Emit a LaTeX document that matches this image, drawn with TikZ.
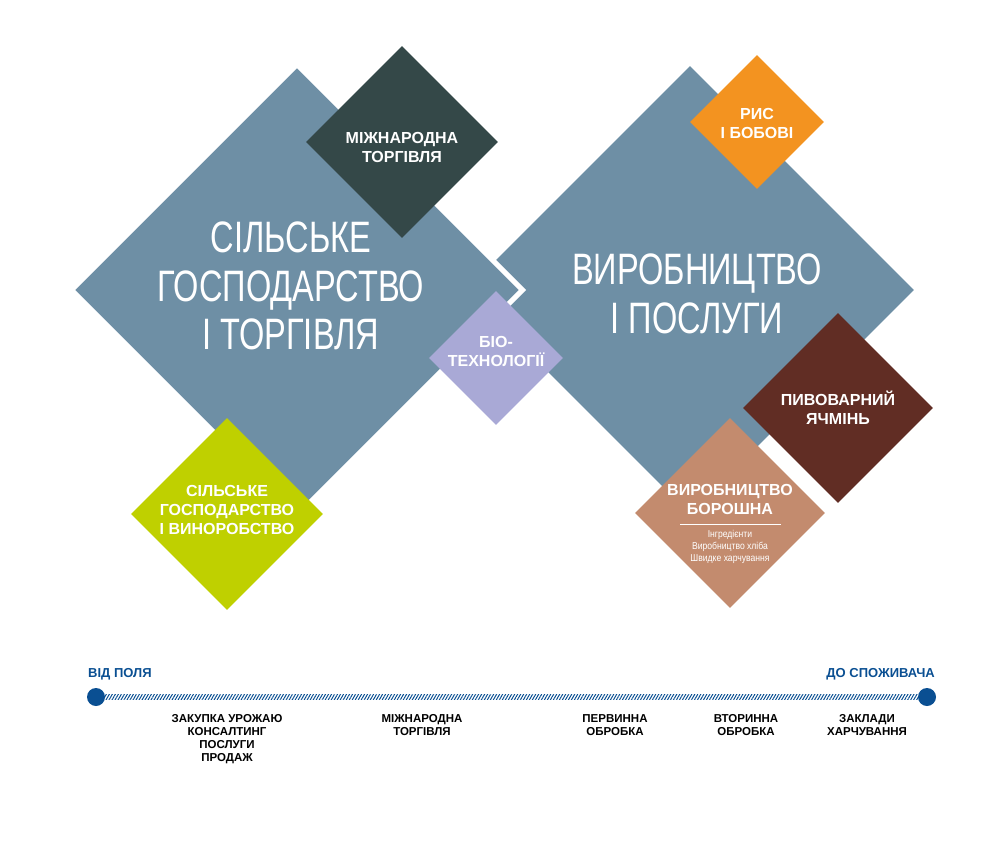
\documentclass[tikz,border=0pt]{standalone}
\usepackage{fontspec}
\setmainfont{Liberation Sans}
\newfontfamily\narrowfont[FakeStretch=0.74]{Liberation Sans}
\newfontfamily\notefont[FakeStretch=0.86]{Liberation Sans}
\usepackage{xcolor}
\usepackage{tikz}
\usetikzlibrary{shapes.geometric, positioning, patterns.meta, calc}

\definecolor{steel}{HTML}{6E8FA5}
\definecolor{slate}{HTML}{344848}
\definecolor{riceorange}{HTML}{F39320}
\definecolor{lavender}{HTML}{A9A9D6}
\definecolor{maltbrown}{HTML}{612D24}
\definecolor{flourtan}{HTML}{C38B6E}
\definecolor{vinelime}{HTML}{BFD000}
\definecolor{timeblue}{HTML}{0A4F92}

\begin{document}
\begin{tikzpicture}[x=1pt, y=-1pt,
  bigdiamond/.style={diamond, aspect=1, inner sep=0pt, minimum size=448pt, fill=steel},
  tile/.style={diamond, aspect=1, inner sep=0pt, minimum size=#1},
  tiletext/.style={text=white, align=center, inner sep=0pt, font=\fontsize{16}{19}\selectfont\bfseries},
  bigtext/.style={text=white, align=center, inner sep=0pt, font=\narrowfont\fontsize{44}{48.5}\selectfont},
  stage/.style={align=center, inner sep=0pt, font=\fontsize{11.5}{13}\selectfont\bfseries},
  endlabel/.style={text=timeblue, inner sep=0pt, font=\fontsize{13}{15}\selectfont\bfseries},
  dot/.style={circle, fill=timeblue, minimum size=18pt, inner sep=0pt}
]
  \useasboundingbox (0,0) rectangle (1000,842);

  % two main sectors
  \node[bigdiamond] (production) at (690,290) {};
  \node[bigdiamond, minimum size=453pt, draw=white, line width=5pt] (farming) at (297,290) {};
  \node[bigtext] (farmingtext) at (291,286) {СІЛЬСЬКЕ\\ГОСПОДАРСТВО\\І ТОРГІВЛЯ};
  \node[bigtext] (productiontext) at (697,294) {ВИРОБНИЦТВО\\І ПОСЛУГИ};

  % segments
  \node[tile=192pt, fill=slate, label={[tiletext, yshift=-5pt]center:{МІЖНАРОДНА\\ТОРГІВЛЯ}}] (trade) at (402,142) {};
  \node[tile=134pt, fill=riceorange, label={[tiletext, yshift=-1pt]center:{РИС\\І БОБОВІ}}] (rice) at (757,122) {};
  \node[tile=134pt, fill=lavender, label={[tiletext, yshift=7pt]center:{БІО-\\ТЕХНОЛОГІЇ}}] (biotech) at (496,358) {};
  \node[tile=190pt, fill=maltbrown, label={[tiletext, yshift=0pt]center:{ПИВОВАРНИЙ\\ЯЧМІНЬ}}] (barley) at (838,408) {};
  \node[tile=192pt, fill=vinelime, label={[tiletext, yshift=4pt]center:{СІЛЬСЬКЕ\\ГОСПОДАРСТВО\\І ВИНОРОБСТВО}}] (vine) at (227,514) {};
  \node[tile=190pt, fill=flourtan] (flour) at (730,513) {};
  \node[tiletext] (flourtitle) at (730,499) {ВИРОБНИЦТВО\\БОРОШНА};
  \draw[white, line width=0.6pt] ($(flour.center)+(-50,11)$) -- ($(flour.center)+(51,11)$);
  \node[text=white, align=center, inner sep=0pt, font=\notefont\fontsize{10}{12}\selectfont] (flournote) at (730,547) {Інгредієнти\\Виробництво хліба\\Швидке харчування};

  % value chain
  \node[dot] (field) at (96,697) {};
  \node[dot] (consumer) at (927,697) {};
  \fill[pattern={Lines[angle=60, distance=2.6pt, line width=1pt]}, pattern color=timeblue]
    ($(field.east)+(0,-2.8)$) rectangle ($(consumer.west)+(0,2.8)$);
  \node[endlabel, anchor=base west] (fromfield) at (88,677) {ВІД ПОЛЯ};
  \node[endlabel, anchor=base east] (toconsumer) at (935,677) {ДО СПОЖИВАЧА};

  \node[stage, anchor=north] (purchase) at (227,714) {ЗАКУПКА УРОЖАЮ\\КОНСАЛТИНГ\\ПОСЛУГИ\\ПРОДАЖ};
  \node[stage, anchor=north] (tradestage) at (422,714) {МІЖНАРОДНА\\ТОРГІВЛЯ};
  \node[stage, anchor=north] (primary) at (615,714) {ПЕРВИННА\\ОБРОБКА};
  \node[stage, anchor=north] (secondary) at (746,714) {ВТОРИННА\\ОБРОБКА};
  \node[stage, anchor=north] (catering) at (867,714) {ЗАКЛАДИ\\ХАРЧУВАННЯ};
\end{tikzpicture}
\end{document}
